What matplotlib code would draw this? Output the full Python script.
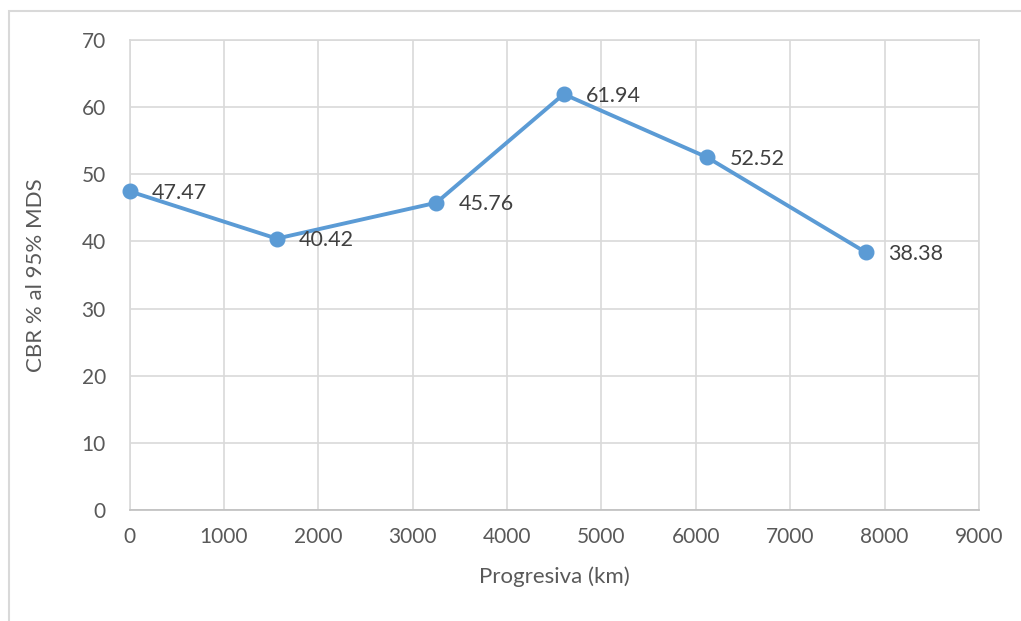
import matplotlib
matplotlib.use("Agg")
import matplotlib.pyplot as plt
from matplotlib.patches import Rectangle

plt.rcParams['font.family'] = ['Lato', 'DejaVu Sans']

# progresiva (km) y CBR al 95% de la MDS
progresiva = [0, 1560, 3250, 4600, 6120, 7800]
cbr = [47.47, 40.42, 45.76, 61.94, 52.52, 38.38]
xticks = list(range(0, 9001, 1000))
yticks = list(range(0, 71, 10))

fig = plt.figure(figsize=(10.21, 6.21), dpi=100)
ax = fig.add_axes([129.5 / 1021, 1 - 510 / 621, (979 - 129.5) / 1021, (510 - 40) / 621])

# marco exterior del grafico
fig.patches.append(Rectangle((8.5 / 1021, -0.05), 1.2, 1 - 11 / 621 + 0.05,
                             transform=fig.transFigure, fill=False,
                             edgecolor='#d9d9d9', linewidth=1.5))

ax.plot(progresiva, cbr, color='#5b9bd5', linewidth=2.8, marker='o',
        markersize=10.5, zorder=3, clip_on=False)

for x, y in zip(progresiva, cbr):
    ax.annotate(f'{y:.2f}', (x, y), xytext=(16, -1), textcoords='offset points',
                ha='left', va='center', fontsize=15.5, color='#404040')

ax.set_xlim(0, 9000)
ax.set_ylim(0, 70)
ax.set_xticks(xticks)
ax.set_yticks(yticks)
ax.grid(True, color='#d9d9d9', linewidth=1.2)
ax.set_axisbelow(True)
for side in ['top', 'right', 'left']:
    ax.spines[side].set_color('#d9d9d9')
    ax.spines[side].set_linewidth(1.2)
ax.spines['bottom'].set_color('#bfbfbf')
ax.spines['bottom'].set_linewidth(1.2)
ax.tick_params(length=0, labelsize=15, labelcolor='#595959', pad=12)
ax.tick_params(axis='y', pad=17)

ax.set_xlabel('Progresiva (km)', fontsize=16, color='#595959', labelpad=14)
ax.set_ylabel('CBR % al 95% MDS', fontsize=16, color='#595959', labelpad=26)

fig.savefig('out.png', dpi=100)
